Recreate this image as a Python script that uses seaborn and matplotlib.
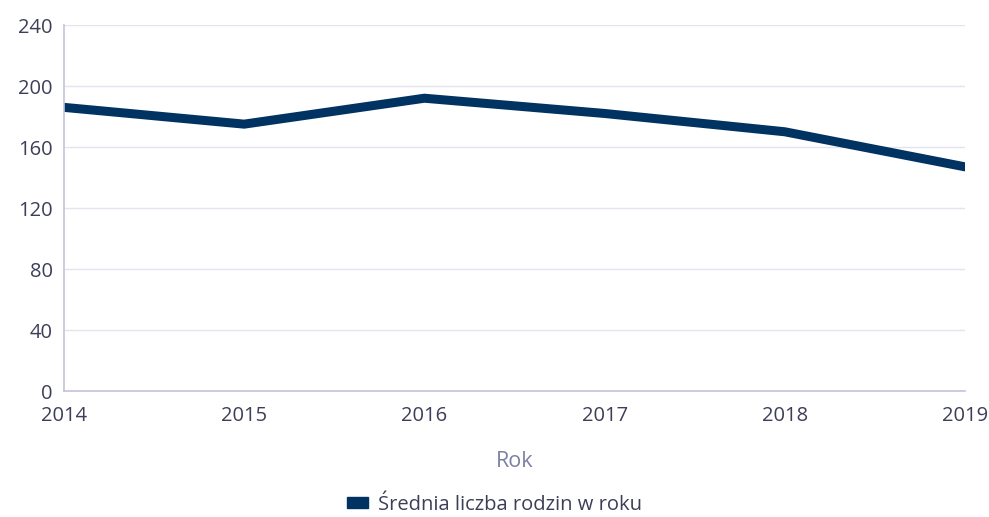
import pandas as pd
import seaborn as sns
import matplotlib.pyplot as plt
from matplotlib.patches import Patch

years = [2014, 2015, 2016, 2017, 2018, 2019]
families = [186, 175, 192, 182, 170, 147]
series_label = "Średnia liczba rodzin w roku"
y_ticks = [0, 40, 80, 120, 160, 200, 240]

line_color = "#003361"
text_color = "#3d3f58"

sns.set_theme(style="white")
plt.rcParams["font.family"] = ["Open Sans", "DejaVu Sans"]

df = pd.DataFrame({"Rok": years, "value": families})

fig = plt.figure(figsize=(9.89, 5.17), dpi=100)
ax = fig.add_axes([0.0647, 0.2437, 0.9110, 0.7079])

sns.lineplot(data=df, x="Rok", y="value", ax=ax, color=line_color,
             linewidth=6.5, solid_joinstyle="miter", legend=False)

ax.set_xlim(years[0], years[-1])
ax.set_ylim(0, 240)
ax.set_yticks(y_ticks)
ax.set_xticks(years)
ax.yaxis.grid(True, color="#e4e4ee", linewidth=1)
ax.set_axisbelow(True)
for s in ["top", "right"]:
    ax.spines[s].set_visible(False)
for s in ["left", "bottom"]:
    ax.spines[s].set_color("#c2c3da")
    ax.spines[s].set_linewidth(1.2)
ax.tick_params(axis="both", length=0, labelsize=14.5, labelcolor=text_color)
ax.tick_params(axis="y", pad=8)
ax.tick_params(axis="x", pad=11)
ax.set_ylabel("")
ax.set_xlabel("Rok", fontsize=15.5, color="#7c80a3", labelpad=18)

fig.legend(handles=[Patch(color=line_color, label=series_label)],
           loc="center", bbox_to_anchor=(0.5, 0.024), frameon=False,
           fontsize=14.5, labelcolor=text_color,
           handlelength=1.0, handleheight=0.5, handletextpad=0.5)

fig.savefig("out.png", dpi=100)
